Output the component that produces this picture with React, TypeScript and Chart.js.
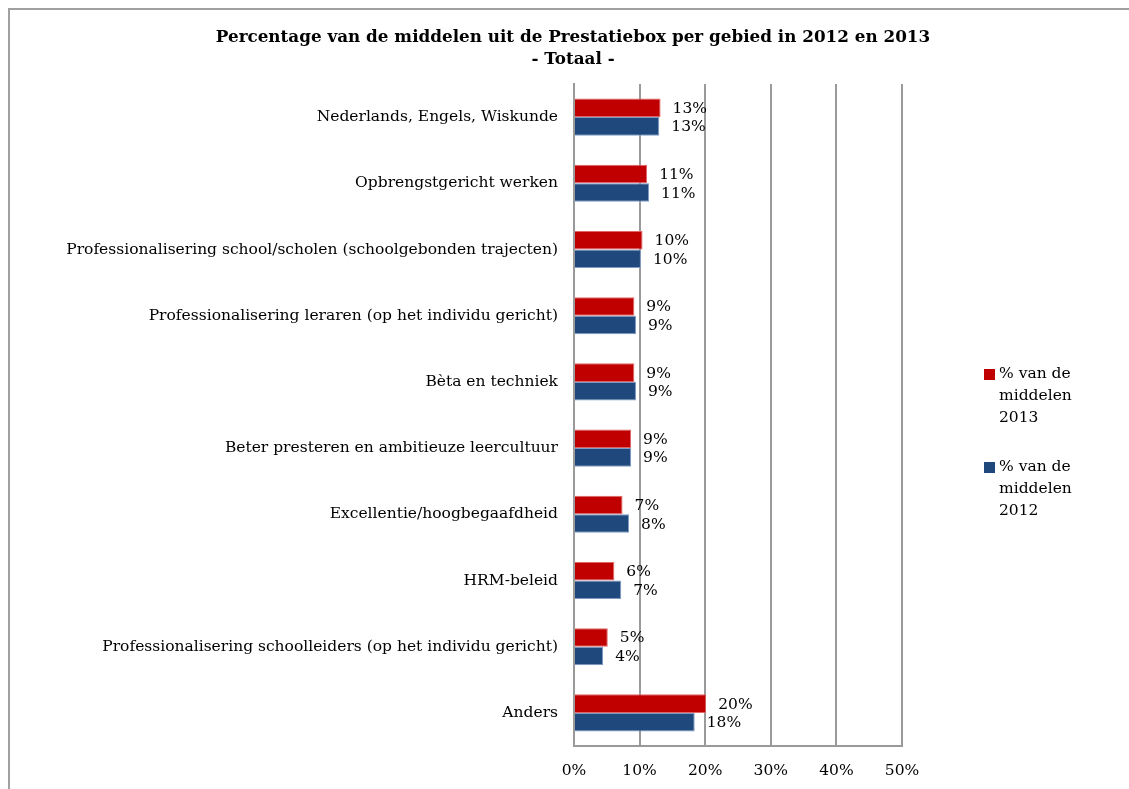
import React, { useEffect, useRef } from "react";
import { Chart, registerables } from "chart.js";

Chart.register(...registerables);

const categories = [
  "Nederlands, Engels, Wiskunde",
  "Opbrengstgericht werken",
  "Professionalisering school/scholen (schoolgebonden trajecten)",
  "Professionalisering leraren (op het individu gericht)",
  "Bèta en techniek",
  "Beter presteren en ambitieuze leercultuur",
  "Excellentie/hoogbegaafdheid",
  "HRM-beleid",
  "Professionalisering schoolleiders (op het individu gericht)",
  "Anders",
];

const values2013 = [13.2, 11.15, 10.45, 9.2, 9.2, 8.7, 7.4, 6.15, 5.15, 20.15];
const values2012 = [13.0, 11.45, 10.2, 9.45, 9.45, 8.7, 8.4, 7.2, 4.45, 18.4];

const series = [
  { name: ["% van de", "middelen", "2013"], values: values2013, color: "#C00000", border: "#E06666" },
  { name: ["% van de", "middelen", "2012"], values: values2012, color: "#1F497D", border: "#7F9BC4" },
];

const titleLines = ["Percentage van de middelen uit de Prestatiebox per gebied in 2012 en 2013", "- Totaal -"];
const xTicks = [0, 10, 20, 30, 40, 50];

const FONT = "'DejaVu Serif', serif";
const FS = 15.5;

export default function App() {
  const ref = useRef<HTMLCanvasElement>(null);
  useEffect(() => {
    const canvas = ref.current!;
    const decor = {
      id: "decor",
      beforeDraw(chart: any) {
        const ctx = chart.ctx;
        ctx.save();
        ctx.fillStyle = "#fff";
        ctx.fillRect(0, 0, chart.width, chart.height);
        ctx.strokeStyle = "#a0a0a0";
        ctx.lineWidth = 2;
        ctx.beginPath();
        ctx.moveTo(1, chart.height);
        ctx.lineTo(1, 1);
        ctx.lineTo(chart.width, 1);
        ctx.stroke();
        ctx.restore();
      },
      afterDraw(chart: any) {
        const ctx = chart.ctx;
        ctx.save();
        // title
        ctx.fillStyle = "#000";
        ctx.font = `bold 16.8px ${FONT}`;
        ctx.textAlign = "center";
        ctx.textBaseline = "middle";
        ctx.fillText(titleLines[0], 565, 30);
        ctx.fillText(titleLines[1], 565, 52);
        // data labels
        ctx.font = `${FS}px ${FONT}`;
        ctx.textAlign = "left";
        chart.data.datasets.forEach((ds: any, i: number) => {
          const meta = chart.getDatasetMeta(i);
          meta.data.forEach((bar: any, j: number) => {
            const v = ds.data[j];
            ctx.fillText(Math.round(v) + "%", bar.x + 12, bar.y + 1);
          });
        });
        // legend
        series.forEach((s, i) => {
          const top = 361 + i * 93;
          ctx.fillStyle = s.color;
          ctx.fillRect(976, top, 11, 11);
          ctx.fillStyle = "#000";
          ctx.font = `${FS}px ${FONT}`;
          s.name.forEach((ln, k) => {
            ctx.fillText(ln, 991, top + 5 + k * 22);
          });
        });
        ctx.restore();
      },
    };
    const chart = new Chart(canvas, {
      type: "bar",
      data: {
        labels: categories,
        datasets: series.map((s) => ({
          label: s.name.join(" "),
          data: s.values,
          backgroundColor: s.color,
          borderColor: s.border,
          borderWidth: 1,
          categoryPercentage: 0.56,
          barPercentage: 1,
        })),
      },
      options: {
        indexAxis: "y",
        animation: false,
        responsive: false,
        events: [],
        layout: { padding: { left: 0, right: 227, top: 76, bottom: 0 } },
        plugins: { legend: { display: false }, title: { display: false }, tooltip: { enabled: false } },
        scales: {
          x: {
            min: 0,
            max: 50,
            afterBuildTicks: (scale: any) => {
              scale.ticks = xTicks.map((v) => ({ value: v }));
            },
            afterFit: (scale: any) => {
              scale.height = 43;
            },
            grid: { color: "#9a9a9a", lineWidth: 2, drawTicks: false },
            border: { display: true, color: "#9a9a9a", width: 2 },
            ticks: {
              color: "#000",
              font: { family: FONT, size: FS },
              padding: 16,
              callback: (v: any) => v + "%",
            },
          },
          y: {
            afterFit: (scale: any) => {
              scale.width = 566;
            },
            grid: { display: false, drawTicks: false },
            border: { display: true, color: "#9a9a9a", width: 2 },
            ticks: {
              color: "#000",
              font: { family: FONT, size: FS },
              padding: 16,
              autoSkip: false,
            },
          },
        },
      },
      plugins: [decor],
    });
    return () => chart.destroy();
  }, []);
  return (
    <div style={{ position: "fixed", left: 8, top: 8, width: 1121, height: 781 }}>
      <canvas ref={ref} width={1121} height={781} style={{ display: "block" }} />
    </div>
  );
}
